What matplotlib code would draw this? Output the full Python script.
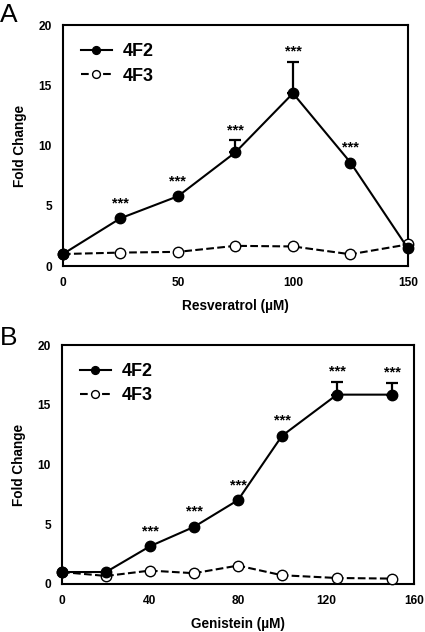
import numpy as np
import matplotlib.pyplot as plt

plt.rcParams['font.family'] = ['Liberation Sans', 'DejaVu Sans']

# Panel A - resveratrol
res_x = [0, 25, 50, 75, 100, 125, 150]
res_4f2 = [1.0, 3.97, 5.8, 9.45, 14.35, 8.6, 1.46]
res_4f2_err = [0, 0, 0, 1.0, 2.6, 0, 0]
res_4f3 = [1.0, 1.12, 1.18, 1.68, 1.63, 0.98, 1.8]
res_star = [False, True, True, True, True, True, False]

# Panel B - genistein
gen_x = [0, 20, 40, 60, 80, 100, 125, 150]
gen_4f2 = [1.0, 1.0, 3.16, 4.78, 7.02, 12.4, 15.85, 15.85]
gen_4f2_err = [0, 0, 0, 0, 0, 0, 1.05, 1.0]
gen_4f3 = [1.0, 0.67, 1.12, 0.9, 1.54, 0.73, 0.5, 0.45]
gen_star = [False, False, True, True, True, True, True, True]

fig = plt.figure(figsize=(4.25, 6.32), dpi=100)
axA = fig.add_axes([0.148, 0.579, 0.812, 0.381])
axB = fig.add_axes([0.146, 0.076, 0.828, 0.378])


def draw(ax, x, y1, err, y2, star, xmax, xticks, xlabel):
    x = np.array(x)
    y1 = np.array(y1)
    err = np.array(err)
    m = err > 0
    ax.errorbar(x[m], y1[m], yerr=[np.zeros(m.sum()), err[m]], fmt='none',
                ecolor='black', elinewidth=1.6, capsize=4.5, capthick=1.6, zorder=2)
    ax.plot(x, y1, '-o', color='black', lw=1.5, ms=7.5, label='4F2',
            clip_on=False, zorder=4)
    ax.plot(x, y2, '--o', color='black', lw=1.5, ms=7.5, mfc='white', mew=1.0,
            label='4F3', clip_on=False, zorder=3)
    for xi, yi, ei, s in zip(x, y1, err, star):
        if s:
            off = 0.85 if ei > 0 else 1.25
            ax.text(xi, yi + ei + off, '***', ha='center', va='center',
                    fontsize=10.5, fontweight='bold')
    ax.set_xlim(0, xmax)
    ax.set_ylim(0, 20)
    ax.set_xticks(xticks)
    ax.set_yticks([0, 5, 10, 15, 20])
    ax.tick_params(length=0, labelsize=8.6, pad=8)
    for lab in ax.get_xticklabels() + ax.get_yticklabels():
        lab.set_fontweight('bold')
    for sp in ax.spines.values():
        sp.set_linewidth(1.5)
    ax.set_xlabel(xlabel, fontsize=9.8, fontweight='bold', labelpad=7)
    ax.set_ylabel('Fold Change', fontsize=9.8, fontweight='bold', labelpad=8)
    ax.legend(loc='upper left', frameon=False, handlelength=1.7, markerscale=0.75,
              prop={'size': 13, 'weight': 'bold'}, borderaxespad=0.6,
              labelspacing=0.4, handletextpad=0.6)


draw(axA, res_x, res_4f2, res_4f2_err, res_4f3, res_star, 150,
     [0, 50, 100, 150], 'Resveratrol (\u00b5M)')
draw(axB, gen_x, gen_4f2, gen_4f2_err, gen_4f3, gen_star, 160,
     [0, 40, 80, 120, 160], 'Genistein (\u00b5M)')

fig.text(0.0, 1 - 22 / 632, 'A', fontsize=19, va='baseline', ha='left')
fig.text(0.0, 1 - 345 / 632, 'B', fontsize=19, va='baseline', ha='left')

fig.savefig('out.png', dpi=100)
